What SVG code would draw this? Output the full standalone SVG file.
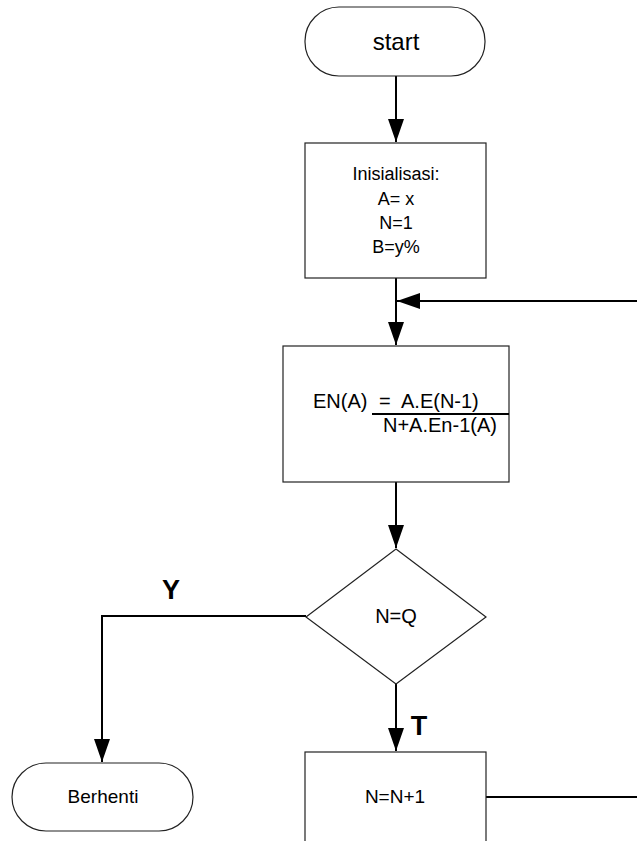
<svg xmlns="http://www.w3.org/2000/svg" width="637" height="841" viewBox="0 0 637 841">
<style>
.shape{fill:#fff;stroke:#222;stroke-width:1.2}
.conn{fill:none;stroke:#000;stroke-width:2}
.t{font-family:"Liberation Sans",Arial,sans-serif;fill:#000}
.c{text-anchor:middle}
.b{font-weight:bold}
</style>
<defs>
<marker id="arr" markerUnits="userSpaceOnUse" markerWidth="24" markerHeight="17" refX="23" refY="8" orient="auto">
<path d="M0,0 L23,8 L0,16 z" fill="#000"/>
</marker>
</defs>
<rect width="637" height="841" fill="#fff"/>
<g id="connectors">
<path class="conn" d="M396,76 V142" marker-end="url(#arr)"/>
<path class="conn" d="M396,278 V345" marker-end="url(#arr)"/>
<path class="conn" d="M637,301 H397" marker-end="url(#arr)"/>
<path class="conn" d="M396,482 V548" marker-end="url(#arr)"/>
<path class="conn" d="M306,616 H102 V762" marker-end="url(#arr)"/>
<path class="conn" d="M396,684 V751" marker-end="url(#arr)"/>
<path class="conn" d="M486,797 H637"/>
<text class="t c b" x="171" y="599" font-size="27">Y</text>
<text class="t c b" x="419" y="735" font-size="27">T</text>
</g>
<g id="start">
<rect class="shape" x="305" y="7" width="180" height="69" rx="34" ry="34"/>
<text class="t c" x="396" y="50" font-size="24">start</text>
</g>
<g id="init">
<rect class="shape" x="305" y="143" width="181" height="135"/>
<text class="t c" x="396" y="180" font-size="18">Inisialisasi:</text>
<text class="t c" x="396" y="205" font-size="18">A= x</text>
<text class="t c" x="396" y="229" font-size="18">N=1</text>
<text class="t c" x="396" y="253" font-size="18">B=y%</text>
</g>
<g id="formula">
<rect class="shape" x="283" y="346" width="226" height="136"/>
<text class="t" x="313" y="408" font-size="20">EN(A)</text>
<text class="t" x="379" y="408" font-size="20">=</text>
<text class="t" x="401" y="408" font-size="20">A.E(N-1)</text>
<line x1="372" y1="414" x2="509" y2="414" stroke="#000" stroke-width="2"/>
<text class="t" x="383" y="432" font-size="20">N+A.En-1(A)</text>
</g>
<g id="decision">
<polygon class="shape" points="396,549 486,617 396,684 306,617"/>
<text class="t c" x="396" y="623" font-size="20">N=Q</text>
</g>
<g id="stop">
<rect class="shape" x="12" y="763" width="181" height="68" rx="34" ry="34"/>
<text class="t c" x="103" y="803" font-size="19">Berhenti</text>
</g>
<g id="increment">
<rect class="shape" x="305" y="752" width="181" height="100"/>
<text class="t c" x="395" y="803" font-size="19">N=N+1</text>
</g>
</svg>
